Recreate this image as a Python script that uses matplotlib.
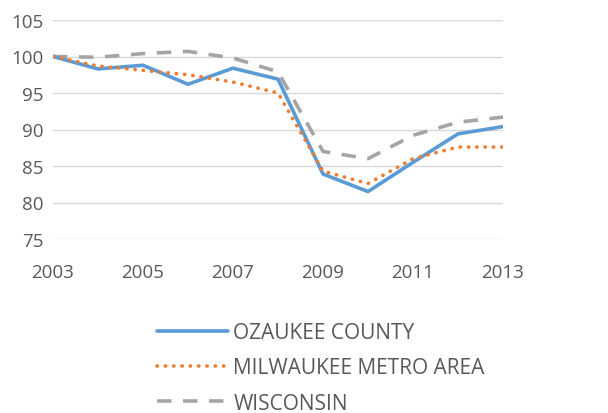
import matplotlib
matplotlib.use("Agg")
import matplotlib.pyplot as plt

years = [2003, 2004, 2005, 2006, 2007, 2008, 2009, 2010, 2011, 2012, 2013]
ozaukee = [100, 98.3, 98.8, 96.2, 98.4, 96.9, 83.9, 81.5, 85.5, 89.4, 90.4]
milwaukee = [100, 98.7, 98.1, 97.5, 96.5, 95.0, 84.3, 82.6, 86.0, 87.6, 87.6]
wisconsin = [100, 99.9, 100.4, 100.7, 99.8, 97.9, 87.0, 86.0, 89.2, 91.0, 91.7]
series_names = ["OZAUKEE COUNTY", "MILWAUKEE METRO AREA", "WISCONSIN"]
xticks = [2003, 2005, 2007, 2009, 2011, 2013]
yticks = [75, 80, 85, 90, 95, 100, 105]

plt.rcParams['font.family'] = ['Open Sans', 'DejaVu Sans']
txt = '#595959'

fig = plt.figure(figsize=(6.08, 4.14), dpi=100)
ax = fig.add_axes([53/608, 1 - 240/414, 450/608, 219/414])

ax.plot(years, ozaukee, color='#5B9BD5', lw=2.6, solid_capstyle='round', label=series_names[0], zorder=3)
ax.plot(years, milwaukee, color='#ED7D31', lw=2.6, linestyle=(0, (0.1, 2.2)), dash_capstyle='round', label=series_names[1], zorder=4)
ax.plot(years, wisconsin, color='#A5A5A5', lw=2.6, linestyle=(0, (4, 3.2)), label=series_names[2], zorder=2)

ax.set_xlim(2003, 2013)
ax.set_ylim(75, 105)
ax.set_xticks(xticks)
ax.set_yticks(yticks)
ax.grid(axis='y', color='#D9D9D9', lw=1)
ax.set_axisbelow(True)
for s in ax.spines.values():
    s.set_visible(False)
ax.tick_params(length=0, labelsize=13.5, labelcolor=txt)
ax.tick_params(axis='y', pad=7)
ax.tick_params(axis='x', pad=17)

leg = fig.legend(loc='upper left', bbox_to_anchor=(149/608, 1 - 315/414), frameon=False,
                 fontsize=15, labelcolor=txt, handlelength=3.4, handletextpad=0.25,
                 labelspacing=0.68, borderaxespad=0)

fig.savefig('out.png', dpi=100)
